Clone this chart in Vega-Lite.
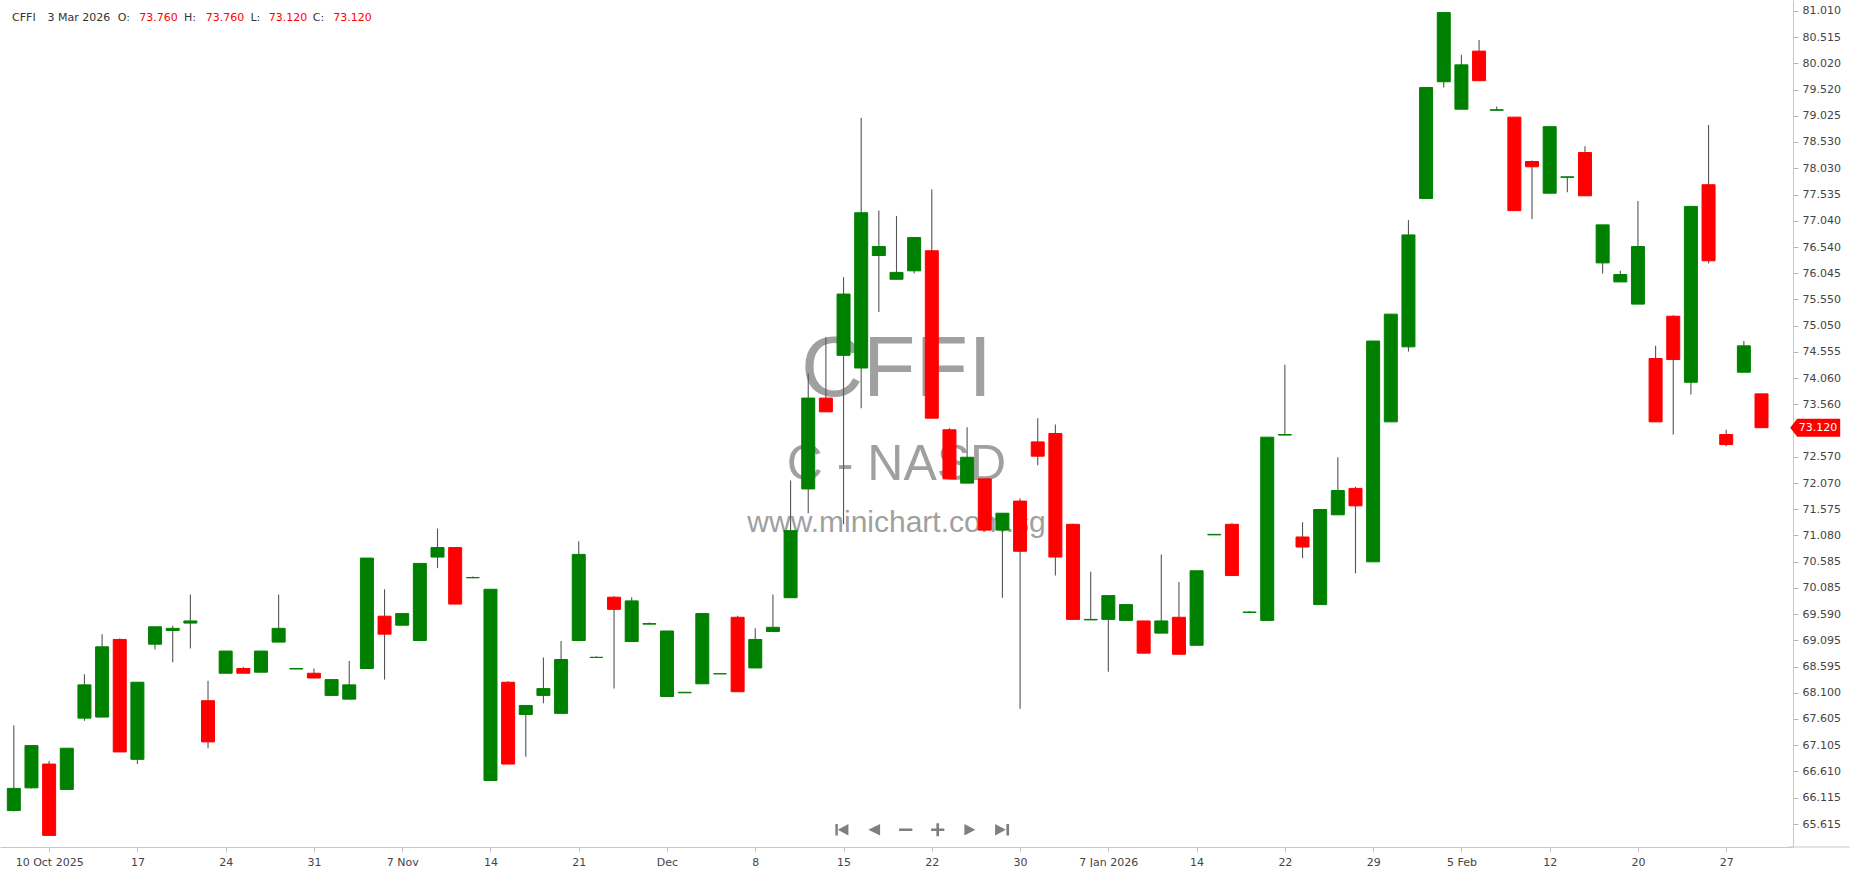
{
  "$schema": "https://vega.github.io/schema/vega-lite/v6.json",
  "width": 1793,
  "height": 847,
  "padding": 0,
  "background": "white",
  "config": {"view": {"stroke": null}},
  "datasets": {
    "ohlc": [
      {"d":"2025-10-08","i":0,"o":65.87,"h":67.48,"l":65.85,"c":66.29},
      {"d":"2025-10-09","i":1,"o":66.30,"h":67.10,"l":66.29,"c":67.10},
      {"d":"2025-10-10","i":2,"o":66.75,"h":66.81,"l":65.40,"c":65.40},
      {"d":"2025-10-13","i":3,"o":66.27,"h":67.05,"l":66.27,"c":67.05},
      {"d":"2025-10-14","i":4,"o":67.62,"h":68.45,"l":67.57,"c":68.25},
      {"d":"2025-10-15","i":5,"o":67.64,"h":69.21,"l":67.64,"c":68.97},
      {"d":"2025-10-16","i":6,"o":69.11,"h":69.13,"l":66.98,"c":66.98},
      {"d":"2025-10-17","i":7,"o":66.84,"h":68.30,"l":66.75,"c":68.30},
      {"d":"2025-10-20","i":8,"o":69.02,"h":69.35,"l":68.92,"c":69.35},
      {"d":"2025-10-21","i":9,"o":69.28,"h":69.37,"l":68.68,"c":69.32},
      {"d":"2025-10-22","i":10,"o":69.42,"h":69.96,"l":68.94,"c":69.46},
      {"d":"2025-10-23","i":11,"o":67.95,"h":68.33,"l":67.05,"c":67.17},
      {"d":"2025-10-24","i":12,"o":68.47,"h":68.89,"l":68.47,"c":68.89},
      {"d":"2025-10-27","i":13,"o":68.56,"h":68.59,"l":68.47,"c":68.47},
      {"d":"2025-10-28","i":14,"o":68.49,"h":68.89,"l":68.49,"c":68.89},
      {"d":"2025-10-29","i":15,"o":69.06,"h":69.96,"l":69.06,"c":69.32},
      {"d":"2025-10-30","i":16,"o":68.55,"h":68.57,"l":68.55,"c":68.56},
      {"d":"2025-10-31","i":17,"o":68.47,"h":68.56,"l":68.38,"c":68.38},
      {"d":"2025-11-03","i":18,"o":68.05,"h":68.35,"l":68.05,"c":68.35},
      {"d":"2025-11-04","i":19,"o":67.98,"h":68.70,"l":67.98,"c":68.25},
      {"d":"2025-11-05","i":20,"o":68.56,"h":70.65,"l":68.56,"c":70.65},
      {"d":"2025-11-06","i":21,"o":69.55,"h":70.06,"l":68.35,"c":69.21},
      {"d":"2025-11-07","i":22,"o":69.38,"h":69.60,"l":69.38,"c":69.60},
      {"d":"2025-11-10","i":23,"o":69.09,"h":70.55,"l":69.09,"c":70.55},
      {"d":"2025-11-11","i":24,"o":70.67,"h":71.21,"l":70.46,"c":70.85},
      {"d":"2025-11-12","i":25,"o":70.85,"h":70.86,"l":69.78,"c":69.78},
      {"d":"2025-11-13","i":26,"o":70.28,"h":70.30,"l":70.27,"c":70.28},
      {"d":"2025-11-14","i":27,"o":66.44,"h":70.06,"l":66.44,"c":70.06},
      {"d":"2025-11-17","i":28,"o":68.30,"h":68.32,"l":66.75,"c":66.75},
      {"d":"2025-11-18","i":29,"o":67.69,"h":67.86,"l":66.89,"c":67.86},
      {"d":"2025-11-19","i":30,"o":68.05,"h":68.77,"l":67.90,"c":68.18},
      {"d":"2025-11-20","i":31,"o":67.71,"h":69.08,"l":67.71,"c":68.73},
      {"d":"2025-11-21","i":32,"o":69.09,"h":70.97,"l":69.09,"c":70.72},
      {"d":"2025-11-24","i":33,"o":68.77,"h":68.79,"l":68.77,"c":68.77},
      {"d":"2025-11-25","i":34,"o":69.91,"h":69.93,"l":68.18,"c":69.68},
      {"d":"2025-11-26","i":35,"o":69.07,"h":69.91,"l":69.07,"c":69.84},
      {"d":"2025-11-28","i":36,"o":69.40,"h":69.43,"l":69.40,"c":69.41},
      {"d":"2025-12-01","i":37,"o":68.03,"h":69.27,"l":68.03,"c":69.27},
      {"d":"2025-12-02","i":38,"o":68.10,"h":68.11,"l":68.10,"c":68.11},
      {"d":"2025-12-03","i":39,"o":68.27,"h":69.60,"l":68.27,"c":69.60},
      {"d":"2025-12-04","i":40,"o":68.46,"h":68.47,"l":68.46,"c":68.46},
      {"d":"2025-12-05","i":41,"o":69.53,"h":69.56,"l":68.12,"c":68.12},
      {"d":"2025-12-08","i":42,"o":68.57,"h":69.32,"l":68.57,"c":69.11},
      {"d":"2025-12-09","i":43,"o":69.26,"h":69.96,"l":69.26,"c":69.34},
      {"d":"2025-12-10","i":44,"o":69.90,"h":72.12,"l":69.90,"c":71.17},
      {"d":"2025-12-11","i":45,"o":71.96,"h":74.15,"l":71.50,"c":73.68},
      {"d":"2025-12-12","i":46,"o":73.68,"h":74.83,"l":73.42,"c":73.42},
      {"d":"2025-12-15","i":47,"o":74.49,"h":75.97,"l":71.29,"c":75.65},
      {"d":"2025-12-16","i":48,"o":74.25,"h":78.99,"l":73.49,"c":77.19},
      {"d":"2025-12-17","i":49,"o":76.38,"h":77.23,"l":75.31,"c":76.55},
      {"d":"2025-12-18","i":50,"o":75.93,"h":77.13,"l":75.93,"c":76.06},
      {"d":"2025-12-19","i":51,"o":76.09,"h":76.72,"l":76.04,"c":76.72},
      {"d":"2025-12-22","i":52,"o":76.47,"h":77.63,"l":73.30,"c":73.30},
      {"d":"2025-12-23","i":53,"o":73.08,"h":73.11,"l":72.15,"c":72.15},
      {"d":"2025-12-24","i":54,"o":72.07,"h":73.13,"l":72.07,"c":72.56},
      {"d":"2025-12-26","i":55,"o":72.15,"h":72.15,"l":71.18,"c":71.18},
      {"d":"2025-12-29","i":56,"o":71.18,"h":71.50,"l":69.90,"c":71.50},
      {"d":"2025-12-30","i":57,"o":71.73,"h":71.78,"l":67.80,"c":70.78},
      {"d":"2025-12-31","i":58,"o":72.85,"h":73.30,"l":72.41,"c":72.58},
      {"d":"2026-01-02","i":59,"o":73.01,"h":73.18,"l":70.32,"c":70.67},
      {"d":"2026-01-05","i":60,"o":71.29,"h":71.30,"l":69.49,"c":69.49},
      {"d":"2026-01-06","i":61,"o":69.48,"h":70.39,"l":69.48,"c":69.49},
      {"d":"2026-01-07","i":62,"o":69.49,"h":69.94,"l":68.50,"c":69.94},
      {"d":"2026-01-08","i":63,"o":69.47,"h":69.77,"l":69.47,"c":69.77},
      {"d":"2026-01-09","i":64,"o":69.46,"h":69.46,"l":68.85,"c":68.85},
      {"d":"2026-01-12","i":65,"o":69.23,"h":70.72,"l":69.23,"c":69.46},
      {"d":"2026-01-13","i":66,"o":69.53,"h":70.20,"l":68.83,"c":68.83},
      {"d":"2026-01-14","i":67,"o":69.00,"h":70.41,"l":69.00,"c":70.41},
      {"d":"2026-01-15","i":68,"o":71.09,"h":71.10,"l":71.09,"c":71.10},
      {"d":"2026-01-16","i":69,"o":71.29,"h":71.31,"l":70.32,"c":70.32},
      {"d":"2026-01-20","i":70,"o":69.62,"h":69.65,"l":69.62,"c":69.63},
      {"d":"2026-01-21","i":71,"o":69.47,"h":72.94,"l":69.47,"c":72.94},
      {"d":"2026-01-22","i":72,"o":72.98,"h":74.31,"l":72.98,"c":72.99},
      {"d":"2026-01-23","i":73,"o":71.05,"h":71.33,"l":70.65,"c":70.86},
      {"d":"2026-01-26","i":74,"o":69.77,"h":71.57,"l":69.77,"c":71.57},
      {"d":"2026-01-27","i":75,"o":71.47,"h":72.56,"l":71.47,"c":71.93},
      {"d":"2026-01-28","i":76,"o":71.97,"h":72.00,"l":70.36,"c":71.64},
      {"d":"2026-01-29","i":77,"o":70.58,"h":74.76,"l":70.58,"c":74.76},
      {"d":"2026-01-30","i":78,"o":73.23,"h":75.27,"l":73.23,"c":75.27},
      {"d":"2026-02-02","i":79,"o":74.65,"h":77.05,"l":74.56,"c":76.77},
      {"d":"2026-02-03","i":80,"o":77.46,"h":79.56,"l":77.46,"c":79.56},
      {"d":"2026-02-04","i":81,"o":79.67,"h":80.98,"l":79.56,"c":80.98},
      {"d":"2026-02-05","i":82,"o":79.15,"h":80.18,"l":79.15,"c":79.99},
      {"d":"2026-02-06","i":83,"o":80.25,"h":80.46,"l":79.69,"c":79.69},
      {"d":"2026-02-09","i":84,"o":79.13,"h":79.20,"l":79.13,"c":79.14},
      {"d":"2026-02-10","i":85,"o":79.00,"h":79.00,"l":77.23,"c":77.23},
      {"d":"2026-02-11","i":86,"o":78.16,"h":78.18,"l":77.07,"c":78.06},
      {"d":"2026-02-12","i":87,"o":77.56,"h":78.82,"l":77.56,"c":78.82},
      {"d":"2026-02-13","i":88,"o":77.86,"h":77.87,"l":77.58,"c":77.87},
      {"d":"2026-02-17","i":89,"o":78.33,"h":78.45,"l":77.51,"c":77.51},
      {"d":"2026-02-18","i":90,"o":76.24,"h":76.96,"l":76.04,"c":76.96},
      {"d":"2026-02-19","i":91,"o":75.88,"h":76.09,"l":75.88,"c":76.02},
      {"d":"2026-02-20","i":92,"o":75.46,"h":77.41,"l":75.46,"c":76.55},
      {"d":"2026-02-23","i":93,"o":74.43,"h":74.67,"l":73.23,"c":73.23},
      {"d":"2026-02-24","i":94,"o":75.23,"h":75.25,"l":72.99,"c":74.41},
      {"d":"2026-02-25","i":95,"o":73.98,"h":77.31,"l":73.75,"c":77.31},
      {"d":"2026-02-26","i":96,"o":77.72,"h":78.85,"l":76.23,"c":76.28},
      {"d":"2026-02-27","i":97,"o":72.99,"h":73.08,"l":72.77,"c":72.80},
      {"d":"2026-03-02","i":98,"o":74.17,"h":74.76,"l":74.17,"c":74.67},
      {"d":"2026-03-03","i":99,"o":73.76,"h":73.76,"l":73.12,"c":73.12}
    ]
  },
  "data": {"name": "ohlc"},
  "encoding": {
    "x": {
      "field": "i", "type": "quantitative",
      "scale": {"domain": [-0.5, 100.5], "nice": false, "zero": false},
      "axis": {
        "values": [2,7,12,17,22,27,32,37,42,47,52,57,62,67,72,77,82,87,92,97],
        "labelExpr": "['10 Oct 2025','17','24','31','7 Nov','14','21','Dec','8','15','22','30','7 Jan 2026','14','22','29','5 Feb','12','20','27'][round((datum.value-2)/5)]",
        "title": null, "grid": false,
        "domainColor": "#c8c8c8", "tickColor": "#c8c8c8", "tickSize": 5,
        "labelFont": "DejaVu Sans", "labelFontSize": 11, "labelColor": "#444444",
        "labelPadding": 4, "labelOverlap": false, "labelFlush": false
      }
    },
    "y": {
      "field": "l", "type": "quantitative",
      "scale": {"domain": [65.18, 81.218], "nice": false, "zero": false},
      "axis": {
        "orient": "right",
        "values": [65.615,66.115,66.61,67.105,67.605,68.1,68.595,69.095,69.59,70.085,70.585,71.08,71.575,72.07,72.57,73.56,74.06,74.555,75.05,75.55,76.045,76.54,77.04,77.535,78.03,78.53,79.025,79.52,80.02,80.515,81.01],
        "format": ".3f", "title": null, "grid": false,
        "domainColor": "#c8c8c8", "tickColor": "#b4b4b4", "tickSize": 5,
        "labelFont": "DejaVu Sans", "labelFontSize": 11, "labelColor": "#444444",
        "labelPadding": 4, "labelOverlap": false, "labelFlush": false
      }
    }
  },
  "layer": [
    {
      "transform": [{"filter": "datum.i == 99"}],
      "mark": {"type": "text", "text": "CFFI", "font": "Liberation Sans", "fontSize": 86, "color": "#a0a0a0", "align": "center", "baseline": "alphabetic"},
      "encoding": {
        "x": {"datum": 50, "type": "quantitative"},
        "y": {"datum": 73.72, "type": "quantitative"}
      }
    },
    {
      "transform": [{"filter": "datum.i == 99"}],
      "mark": {"type": "text", "text": "C - NASD", "font": "Liberation Sans", "fontSize": 50, "color": "#a0a0a0", "align": "center", "baseline": "alphabetic"},
      "encoding": {
        "x": {"datum": 50, "type": "quantitative"},
        "y": {"datum": 72.12, "type": "quantitative"}
      }
    },
    {
      "transform": [{"filter": "datum.i == 99"}],
      "mark": {"type": "text", "text": "www.minichart.com.sg", "font": "Liberation Sans", "fontSize": 30, "color": "#a0a0a0", "align": "center", "baseline": "alphabetic"},
      "encoding": {
        "x": {"datum": 50, "type": "quantitative"},
        "y": {"datum": 71.14, "type": "quantitative"}
      }
    },
    {
      "mark": {"type": "rule", "color": "#555555", "strokeWidth": 1.1},
      "encoding": {
        "y2": {"field": "h"}
      }
    },
    {
      "mark": {"type": "bar", "width": 13, "strokeWidth": 1},
      "encoding": {
        "y": {"field": "o", "type": "quantitative"},
        "y2": {"field": "c"},
        "fill": {"condition": {"test": "datum.c >= datum.o", "value": "#008000"}, "value": "#ff0000"},
        "stroke": {"condition": {"test": "datum.c >= datum.o", "value": "#008000"}, "value": "#ff0000"}
      }
    },
    {
      "transform": [{"filter": "datum.i == 99"}],
      "encoding": {
        "y": {"datum": 80.868, "type": "quantitative"}
      },
      "layer": [
        {"mark": {"type": "text", "text": "CFFI", "font": "DejaVu Sans", "fontSize": 11, "color": "#333333", "align": "left", "baseline": "middle"},
         "encoding": {"x": {"datum": -0.1, "type": "quantitative"}}},
        {"mark": {"type": "text", "text": "3 Mar 2026", "font": "DejaVu Sans", "fontSize": 11, "color": "#333333", "align": "left", "baseline": "middle"},
         "encoding": {"x": {"datum": 1.91, "type": "quantitative"}}},
        {"mark": {"type": "text", "text": "O:", "font": "DejaVu Sans", "fontSize": 11, "color": "#333333", "align": "left", "baseline": "middle"},
         "encoding": {"x": {"datum": 5.89, "type": "quantitative"}}},
        {"mark": {"type": "text", "font": "DejaVu Sans", "fontSize": 11, "color": "#ff0000", "align": "left", "baseline": "middle"},
         "encoding": {"x": {"datum": 7.11, "type": "quantitative"},
                      "text": {"field": "o", "type": "quantitative", "format": ".3f"}}},
        {"mark": {"type": "text", "text": "H:", "font": "DejaVu Sans", "fontSize": 11, "color": "#333333", "align": "left", "baseline": "middle"},
         "encoding": {"x": {"datum": 9.645, "type": "quantitative"}}},
        {"mark": {"type": "text", "font": "DejaVu Sans", "fontSize": 11, "color": "#ff0000", "align": "left", "baseline": "middle"},
         "encoding": {"x": {"datum": 10.87, "type": "quantitative"},
                      "text": {"field": "h", "type": "quantitative", "format": ".3f"}}},
        {"mark": {"type": "text", "text": "L:", "font": "DejaVu Sans", "fontSize": 11, "color": "#333333", "align": "left", "baseline": "middle"},
         "encoding": {"x": {"datum": 13.4, "type": "quantitative"}}},
        {"mark": {"type": "text", "font": "DejaVu Sans", "fontSize": 11, "color": "#ff0000", "align": "left", "baseline": "middle"},
         "encoding": {"x": {"datum": 14.434, "type": "quantitative"},
                      "text": {"field": "l", "type": "quantitative", "format": ".3f"}}},
        {"mark": {"type": "text", "text": "C:", "font": "DejaVu Sans", "fontSize": 11, "color": "#333333", "align": "left", "baseline": "middle"},
         "encoding": {"x": {"datum": 16.93, "type": "quantitative"}}},
        {"mark": {"type": "text", "font": "DejaVu Sans", "fontSize": 11, "color": "#ff0000", "align": "left", "baseline": "middle"},
         "encoding": {"x": {"datum": 18.096, "type": "quantitative"},
                      "text": {"field": "c", "type": "quantitative", "format": ".3f"}}}
      ]
    },
    {
      "transform": [{"filter": "datum.i == 99"}],
      "mark": {"type": "point", "filled": true, "opacity": 1, "fill": "#7f7f7f", "strokeWidth": 0, "size": 30276,
               "shape": "M-0.999,-0.0655H-0.971V0.0655H-0.999Z M-0.971,0L-0.849,-0.0655V0.0655Z M-0.6195,0L-0.485,-0.0655V0.0655Z M-0.267,-0.015H-0.114V0.015H-0.267Z M0.101,-0.015H0.254V0.015H0.101Z M0.162,-0.0736H0.193V0.0736H0.162Z M0.484,-0.0655L0.61,0L0.484,0.0655Z M0.837,-0.0655L0.96,0L0.837,0.0655Z M0.967,-0.0655H0.998V0.0655H0.967Z"},
      "encoding": {
        "x": {"datum": 51.46, "type": "quantitative"},
        "y": {"datum": 65.507, "type": "quantitative"}
      }
    },
    {
      "transform": [{"filter": "datum.i == 99"}],
      "mark": {"type": "point", "filled": true, "opacity": 1, "fill": "#ff0000", "strokeWidth": 0, "size": 2500,
               "shape": "M-1,0L-0.72,-0.36H1V0.36H-0.72Z"},
      "encoding": {
        "x": {"datum": 102.04, "type": "quantitative"},
        "y": {"field": "c", "type": "quantitative"}
      }
    },
    {
      "transform": [{"filter": "datum.i == 99"}],
      "mark": {"type": "text", "font": "DejaVu Sans", "fontSize": 11, "color": "#ffffff", "align": "center", "baseline": "middle"},
      "encoding": {
        "x": {"datum": 102.2, "type": "quantitative"},
        "y": {"field": "c", "type": "quantitative"},
        "text": {"field": "c", "type": "quantitative", "format": ".3f"}
      }
    },
    {
      "transform": [{"filter": "datum.i == 99"}],
      "mark": {"type": "rule", "color": "#c8c8c8", "strokeWidth": 1},
      "encoding": {
        "x": {"datum": 100.5, "type": "quantitative"},
        "x2": {"datum": 104.0},
        "y": {"datum": 65.18, "type": "quantitative"}
      }
    }
  ]
}
